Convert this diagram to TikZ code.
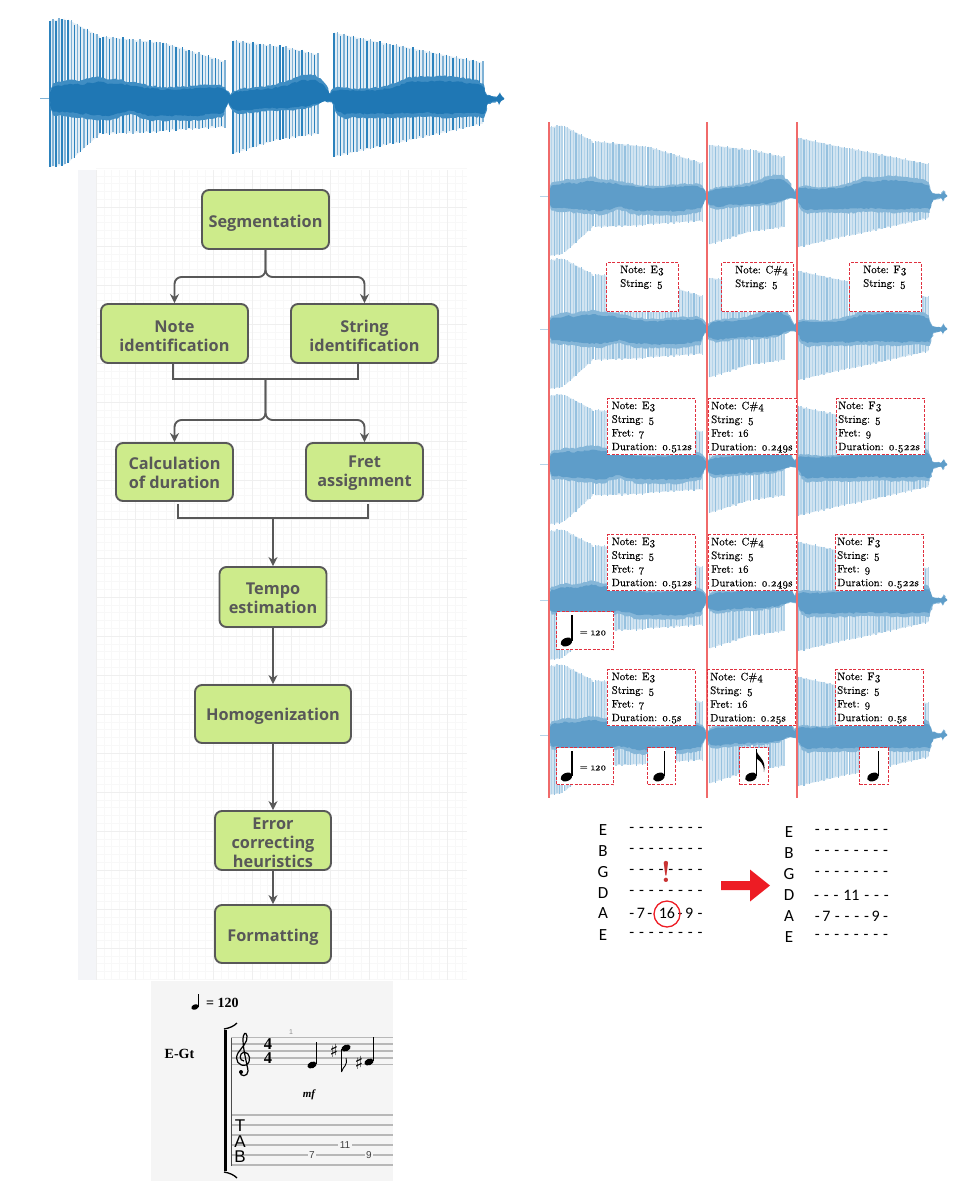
\documentclass[tikz,border=0pt]{standalone}
\usepackage{fontspec}
\usepackage{tikz}
\usetikzlibrary{arrows.meta, decorations.pathmorphing}

\newfontfamily\flowfont{Open Sans}
\newfontfamily\tabfont{Carlito}
\newfontfamily\tabrowfont{Carlito}[WordSpace=1.34]
\newfontfamily\notefont{Latin Modern Roman}[Numbers=OldStyle, FakeBold=0.25]
\newfontfamily\scorefont{Liberation Serif}
\newfontfamily\scoresans{Liberation Sans}
\newfontfamily\signfont{DejaVu Sans}

\definecolor{topdark}{HTML}{2C82BD}
\definecolor{toplight}{HTML}{7FB2D6}
\definecolor{topfill}{HTML}{E3EEF6}
\definecolor{topband}{HTML}{3F8DC3}
\definecolor{topcore}{HTML}{1F77B4}
\definecolor{rowdark}{HTML}{96C1DF}
\definecolor{rowlight}{HTML}{B5D4E9}
\definecolor{rowfill}{HTML}{D2E4F1}
\definecolor{rowband}{HTML}{85B6D8}
\definecolor{rowcore}{HTML}{5E9DC9}
\definecolor{boxgreen}{HTML}{CDEB8B}
\definecolor{boxline}{HTML}{585858}
\definecolor{gridmajor}{HTML}{EFEFEF}
\definecolor{gridminor}{HTML}{F8F8F8}
\definecolor{sheetstrip}{HTML}{F4F5F8}
\definecolor{cutred}{HTML}{F06A6A}
\definecolor{notered}{HTML}{E0303F}
\definecolor{flagred}{HTML}{ED1C24}
\definecolor{alertred}{HTML}{C83232}

\tikzset{
	flowbox/.style = {draw = boxline, fill = boxgreen, line width = 1.9 pt, rounded corners = 7 pt,
		align = center, text = boxline, inner sep = 0 pt,
		font = \flowfont\bfseries\fontsize{16.3}{19}\selectfont},
	flow/.style = {draw = boxline, line width = 1.9 pt},
	notebox/.style = {draw = notered, fill = white, line width = 1.2 pt, dash pattern = on 3 pt off 1.5 pt,
		anchor = north west, inner sep = 0 pt},
	notetext/.style = {anchor = north west, inner sep = 0 pt, align = left,
		font = \notefont\fontsize{10.8}{13.7}\selectfont},
	tabname/.style = {font = \tabfont\fontsize{17}{17}\selectfont, inner sep = 0 pt},
	tabrow/.style = {font = \tabrowfont\fontsize{16}{16}\selectfont, inner sep = 0 pt},
	staffline/.style = {draw = black!28, line width = 1.1 pt},
	tabnum/.style = {fill = black!4, inner xsep = 1.5 pt, inner ysep = 0 pt, text = black!75,
		font = \scoresans\fontsize{10}{10}\selectfont},
	tabletter/.style = {inner sep = 0 pt, font = \scoresans\fontsize{17}{17}\selectfont},
	scorebold/.style = {inner sep = 0 pt, font = \scorefont\bfseries\fontsize{14}{14}\selectfont},
	meter/.style = {inner sep = 0 pt, font = \scorefont\bfseries\fontsize{16.5}{16.5}\selectfont},
	sharpsign/.style = {inner sep = 0 pt, font = \signfont\bfseries\fontsize{18}{18}\selectfont}
}

% Push a flow box text down
\newcommand{\drop}[1]{\rule{0 pt}{#1 pt}}

% Dense core of a waveform
\newcommand{\wavecore}[1]{
	\fill [#1, decorate, decoration = {random steps, segment length = 2.5 pt, amplitude = 0.9 pt}]
		(0,-6) -- (3,-12) -- (10,-13) -- (20,-15) -- (30,-14) -- (40,-16) -- (50,-17) -- (60,-15)
		-- (70,-15) -- (80,-13) -- (90,-12) -- (100,-10) -- (115,-9) -- (130,-9) -- (150,-11) -- (170,-11)
		-- (175,-9) -- (180,-3) -- (184,-6) -- (190,-8) -- (205,-9) -- (220,-10) -- (235,-13) -- (250,-18)
		-- (265,-19) -- (275,-12) -- (280,-4) -- (283,-8) -- (290,-9) -- (300,-8) -- (315,-8) -- (330,-9)
		-- (345,-12) -- (360,-17) -- (375,-17) -- (390,-18) -- (405,-17) -- (425,-15) -- (433,-12)
		-- (437,-3) -- (442,-2) -- (447,-1.5) -- (450,-5) -- (452,-2) -- (454,-0.5)
		-- (454,0.5) -- (451,2) -- (449,5) -- (447,2) -- (442,3) -- (438,4) -- (434,15) -- (425,14) -- (400,15)
		-- (370,14) -- (340,15) -- (320,15) -- (300,15) -- (295,16) -- (288,13) -- (282,3) -- (275,2)
		-- (260,7) -- (240,9) -- (210,10) -- (190,12) -- (183,10) -- (178,3) -- (173,14) -- (150,17)
		-- (120,17) -- (100,17) -- (80,12) -- (60,17) -- (40,16) -- (20,14) -- (3,13) -- (0,6) -- cycle;
}

% Waveform: x, y, x scale, y scale, colour set
\newcommand{\waveform}[5]{
	\begin{scope}[shift = {(#1, #2)}, xscale = #3, yscale = #4]
		\draw [#5light, line width = 0.8 pt] (-10, 0) -- (0, 0);
		\foreach \xa/\xb/\ua/\ub/\da/\db/\n in {
			0/15/78/80/68/66/5, 18/50/79/62/64/35/10, 53/110/62/56/35/33/17, 113/175/56/37/32/28/19,
			183/230/58/52/55/40/14, 233/268/52/44/40/35/11,
			284/340/66/54/58/45/17, 343/433/54/36/45/25/27}
		{
			\fill [#5fill] (\xa, -\ua) -- (\xb, -\ub) -- (\xb, \db) -- (\xa, \da) -- cycle;
			\foreach \i in {0, ..., \n}
			{
				\pgfmathsetmacro{\barx}{\xa + (\xb - \xa) * \i / \n}
				\pgfmathsetmacro{\baru}{\ua + (\ub - \ua) * \i / \n + 1.4 * sin(\i * 137)}
				\pgfmathsetmacro{\bard}{\da + (\db - \da) * \i / \n + 1.4 * sin(\i * 211)}
				\ifodd\i
					\draw [#5light, line width = 1.4 pt] (\barx, -\baru) -- (\barx, \bard);
				\else
					\draw [#5dark, line width = 1.3 pt] (\barx, -\baru) -- (\barx, \bard);
				\fi
			}
		}
		\begin{scope}[yscale = 1.28]
			\wavecore{#5band}
		\end{scope}
		\wavecore{#5core}
	\end{scope}
}

% Note head centre x, y, stem top
\newcommand{\quarternote}[3]{
	\fill (#1, #2) ellipse [x radius = 6.2, y radius = 4.1, rotate = 22];
	\draw [line width = 1.3 pt] (#1 + 5.4, #2 - 1) -- (#1 + 5.4, #3);
}
\newcommand{\eighthnote}[3]{
	\quarternote{#1}{#2}{#3}
	\fill (#1 + 5, #3) .. controls (#1 + 6, #3 + 8) and (#1 + 16, #3 + 10) .. (#1 + 13, #3 + 23)
		.. controls (#1 + 13, #3 + 13) and (#1 + 8, #3 + 12) .. (#1 + 5, #3 + 9) -- cycle;
}
\newcommand{\smallnote}[3]{
	\fill (#1, #2) ellipse [x radius = 3.8, y radius = 2.6, rotate = 22];
	\draw [line width = 0.9 pt] (#1 + 3.3, #2 - 0.5) -- (#1 + 3.3, #3);
}
% Dashed box with its text: name, x, y, width, height, text pad, text
\newcommand{\notebox}[7]{
	\node [notebox, minimum width = #4, minimum height = #5] (#1) at (#2, #3) {};
	\node [notetext, xshift = #6, yshift = -3.5 pt] (#1-text) at (#1.north west) {#7};
}

\begin{document}
\begin{tikzpicture}[x = 1 pt, y = -1 pt, > = {Stealth[length=9pt, width=9pt]}]

	\useasboundingbox (0, 0) rectangle (975, 1195);
	\pgfmathsetseed{7}

	% Drawing sheet behind the flow chart

	\fill [sheetstrip] (78, 170) rectangle (96, 980);
	\foreach \x in {0, ..., 47}
		\draw [gridminor] ({96 + 7.8 * \x}, 170) -- ({96 + 7.8 * \x}, 980);
	\foreach \y in {0, ..., 104}
		\draw [gridminor] (96, {168 + 7.8 * \y}) -- (467, {168 + 7.8 * \y});
	\foreach \x in {0, ..., 9}
		\draw [gridmajor] ({96 + 39 * \x}, 170) -- ({96 + 39 * \x}, 980);
	\foreach \y in {0, ..., 19}
		\draw [gridmajor] (96, {207 + 39 * \y}) -- (467, {207 + 39 * \y});

	% Input waveform

	\waveform{50}{98.7}{1}{1}{top}

	% Flow chart

	\node [flowbox, minimum width = 127, minimum height = 59] (segmentation) at (265.5, 219.5) {\drop{20}Segmentation};
	\node [flowbox, minimum width = 147, minimum height = 59] (note-id) at (174.5, 333.5) {\drop{18}Note\\identification};
	\node [flowbox, minimum width = 147, minimum height = 59] (string-id) at (364.5, 333.5) {\drop{18}String\\identification};
	\node [flowbox, minimum width = 117, minimum height = 58] (duration) at (174.5, 472) {\drop{14}Calculation\\of duration};
	\node [flowbox, minimum width = 117, minimum height = 58] (fret) at (364.5, 472) {\drop{14}Fret\\assignment};
	\node [flowbox, minimum width = 107, minimum height = 60] (tempo) at (273, 597) {\drop{14}Tempo\\estimation};
	\node [flowbox, minimum width = 156, minimum height = 58] (homogen) at (273, 714) {\drop{17}Homogenization};
	\node [flowbox, minimum width = 116, minimum height = 59] (error) at (273, 840.5) {\drop{16}Error\\correcting\\heuristics};
	\node [flowbox, minimum width = 116, minimum height = 58] (formatting) at (273, 934) {\drop{18}Formatting};

	% Connectors of the flow chart

	\coordinate (split-a) at (174.5, 277);
	\coordinate (split-b) at (364.5, 277);
	\draw [flow, ->, rounded corners = 7 pt] (segmentation.south) |- (split-a) -- (note-id.north);
	\draw [flow, ->, rounded corners = 7 pt] (segmentation.south) |- (split-b) -- (string-id.north);

	\coordinate (join-a) at (173, 379);
	\coordinate (join-b) at (358, 379);
	\coordinate (join-c) at (265.5, 379);
	\coordinate (split-c) at (174.5, 420);
	\coordinate (split-d) at (364.5, 420);
	\draw [flow] (join-a |- note-id.south) -- (join-a) -- (join-b) -- (join-b |- string-id.south);
	\draw [flow, ->, rounded corners = 7 pt] (join-c) |- (split-c) -- (duration.north);
	\draw [flow, ->, rounded corners = 7 pt] (join-c) |- (split-d) -- (fret.north);

	\coordinate (join-d) at (178, 518);
	\coordinate (join-e) at (368, 518);
	\coordinate (join-f) at (273, 518);
	\draw [flow] (178, 504) -- (join-d) -- (join-e) -- (368, 504);
	\draw [flow, ->] (join-f) -- (tempo.north);

	\draw [flow, ->] (tempo.south) -- (homogen.north);
	\draw [flow, ->] (homogen.south) -- (error.north);
	\draw [flow, ->] (error.south) -- (formatting.north);

	% Score panel

	\fill [black!4] (151, 981) rectangle (393, 1181);

	\smallnote{195}{1007}{994}
	\node [scorebold, anchor = west] (bpm) at (206, 1003) {= 120};
	\node [scorebold] (instrument) at (179.5, 1054) {E-Gt};
	\node [inner sep = 0 pt, text = black!45, font = \scoresans\fontsize{7}{7}\selectfont] (bar-no) at (291, 1032) {1};

	\foreach \y in {1037.3, 1044, 1051, 1058, 1064.7}
		\draw [staffline] (231, \y) -- (393, \y);
	\foreach \y in {1115, 1125, 1135, 1145, 1155, 1165}
		\draw [staffline] (231, \y) -- (393, \y);

	% Bracket and bar line

	\draw [black!70, line width = 0.8 pt] (231, 1038) -- (231, 1166);
	\draw [line width = 3 pt] (225, 1030) -- (225, 1171);
	\draw [line width = 1.3 pt] (224, 1029) .. controls (230, 1028) and (234, 1026) .. (237, 1023);
	\draw [line width = 1.3 pt] (224, 1172) .. controls (230, 1173) and (234, 1175) .. (237, 1178);

	% Treble clef

	\draw [line width = 1.2 pt] (244, 1061) .. controls (239, 1061) and (239, 1053) .. (244, 1052)
		.. controls (250, 1052) and (252, 1062) .. (246, 1065)
		.. controls (239, 1067) and (234, 1060) .. (238, 1053)
		.. controls (242, 1047) and (248, 1042) .. (247, 1036)
		.. controls (246, 1031) and (243, 1033) .. (243, 1040)
		.. controls (243, 1050) and (248, 1068) .. (248, 1071)
		.. controls (248, 1077) and (240, 1077) .. (240, 1072);
	\fill (241, 1072) circle (2);

	% Time signature and notes

	\node [meter] (time-up) at (268, 1044) {4};
	\node [meter] (time-down) at (268, 1058.5) {4};

	\fill (312, 1065) ellipse [x radius = 4.8, y radius = 3.2, rotate = 22];
	\draw [line width = 0.9 pt] (316.5, 1064) -- (316.5, 1042);
	\fill (346, 1048) ellipse [x radius = 4.8, y radius = 3.2, rotate = 22];
	\draw [line width = 0.9 pt] (341.5, 1049) -- (341.5, 1072);
	\draw [line width = 0.9 pt] (341.5, 1072) .. controls (343, 1066) and (348, 1066) .. (346, 1058);
	\fill (369, 1062) ellipse [x radius = 4.8, y radius = 3.2, rotate = 22];
	\draw [line width = 0.9 pt] (373.5, 1061) -- (373.5, 1037);
	\node [sharpsign] (sharp-a) at (334, 1051) {♯};
	\node [sharpsign] (sharp-b) at (359, 1063) {♯};
	\node [inner sep = 0 pt, font = \scorefont\bfseries\itshape\fontsize{11}{11}\selectfont] (dynamic) at (309, 1095) {mf};

	% Tablature of the score

	\node [tabletter] (tab-t) at (240, 1126) {T};
	\node [tabletter] (tab-a) at (240, 1141.5) {A};
	\node [tabletter] (tab-b) at (240, 1157) {B};
	\node [tabnum] (tab-7) at (312, 1155) {7};
	\node [tabnum] (tab-11) at (345, 1145) {11};
	\node [tabnum] (tab-9) at (369, 1155) {9};

	% Segmented waveforms

	\foreach \y in {196, 329, 464.5, 600, 735}
	{
		\waveform{549}{\y}{0.877}{0.88}{row}
	}

	% Note boundaries

	\foreach \x in {549, 707, 797}
		\draw [cutred, line width = 1.2 pt] (\x, 122) -- (\x, 798);

	% Row 2: note and string

	\notebox{pitch-e}{606}{262}{72}{49}{14}{Note: E3\\String: 5}
	\notebox{pitch-c}{721}{262}{72}{49}{14}{Note: C\#4\\String: 5}
	\notebox{pitch-f}{849}{262}{72}{49}{14}{Note: F3\\String: 5}

	% Rows 3 and 4: fret and duration

	\foreach \r/\y/\xc in {fret/398/836, tempo/534/835}
	{
		\notebox{\r-e}{606.5}{\y}{88}{56}{5}{Note: E3\\String: 5\\Fret: 7\\Duration: 0.512s}
		\notebox{\r-c}{708}{\y}{88}{56}{3}{Note: C\#4\\String: 5\\Fret: 16\\Duration: 0.249s}
		\notebox{\r-f}{\xc}{\y}{88}{56}{2}{Note: F3\\String: 5\\Fret: 9\\Duration: 0.522s}
	}

	\node [notebox, minimum width = 57, minimum height = 38] (bpm-a) at (556, 611) {};
	\quarternote{566.5}{642}{615}
	\node [inner sep = 0 pt, font = \notefont\fontsize{10}{10}\selectfont] (bpm-a-text) at (593, 633) {= 120};

	% Row 5: rounded durations

	\notebox{homog-e}{606.5}{669}{88}{56}{5}{Note: E3\\String: 5\\Fret: 7\\Duration: 0.5s}
	\notebox{homog-c}{707}{669}{88}{56}{3}{Note: C\#4\\String: 5\\Fret: 16\\Duration: 0.25s}
	\notebox{homog-f}{835}{669}{88}{56}{2}{Note: F3\\String: 5\\Fret: 9\\Duration: 0.5s}

	\node [notebox, minimum width = 57, minimum height = 37] (bpm-b) at (556, 747) {};
	\quarternote{566.5}{777}{751}
	\node [inner sep = 0 pt, font = \notefont\fontsize{10}{10}\selectfont] (bpm-b-text) at (593, 768) {= 120};

	\node [notebox, minimum width = 28, minimum height = 37] (value-e) at (647, 747) {};
	\quarternote{659}{777}{751}
	\node [notebox, minimum width = 29, minimum height = 37] (value-c) at (739, 747) {};
	\eighthnote{751}{777}{749}
	\node [notebox, minimum width = 29, minimum height = 37] (value-f) at (859, 747) {};
	\quarternote{873}{777}{751}

	% Tablature before the correction

	\foreach \s/\y [count = \k] in {E/830, B/851, G/872, D/893, A/913, E/935}
		\node [tabname] (left-\k) at (603, \y) {\s};
	\foreach \y [count = \k] in {830, 851, 893, 935}
		\node [tabrow] (left-dash-\k) at (666, \y) {- - - - - - - -};
	\node [tabrow] (left-g-a) at (646.5, 872) {- - - -};
	\node [tabrow] (left-g-b) at (685.5, 872) {- - - -};
	\node [tabrow] (left-a) at (666, 913.5)
		{-\hspace{2.5 pt}7\hspace{2.5 pt}-\hspace{6.5 pt}16\hspace{2.5 pt}-\hspace{2.5 pt}9\hspace{4.5 pt}-};
	\node [inner sep = 0 pt, text = alertred, font = \bfseries\fontsize{30}{30}\selectfont] (alert) at (666, 872) {!};
	\draw [flagred, line width = 1.3 pt] (667, 914) circle (13);

	% Correction arrow

	\fill [flagred] (721, 881) -- (750, 881) -- (750, 869.5) -- (770, 885.5) -- (750, 901.5) -- (750, 890) -- (721, 890) -- cycle;

	% Tablature after the correction

	\foreach \s/\y [count = \k] in {E/832, B/853, G/874, D/895, A/916, E/937}
		\node [tabname] (right-\k) at (789, \y) {\s};
	\foreach \y [count = \k] in {832, 853, 874, 937}
		\node [tabrow] (right-dash-\k) at (851.5, \y) {- - - - - - - -};
	\node [tabrow] (right-d) at (851.5, 895) {- - - 11 - - -};
	\node [tabrow] (right-a) at (851.5, 916)
		{-\hspace{2.5 pt}7\hspace{4.5 pt}- - - -\hspace{2.5 pt}9\hspace{3.5 pt}-};

\end{tikzpicture}
\end{document}
